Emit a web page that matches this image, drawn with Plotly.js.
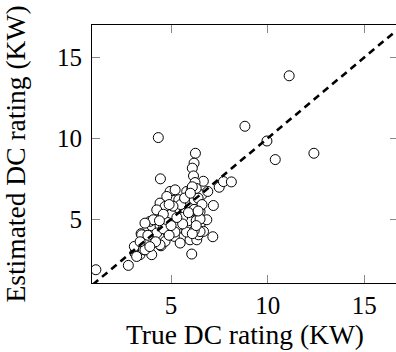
<!DOCTYPE html>
<html>
<head>
<meta charset="utf-8">
<script src="https://cdn.plot.ly/plotly-3.0.1.min.js"></script>
<style>
html,body{margin:0;padding:0;overflow:hidden;background:#fff;width:396px;height:352px;}
#chart{width:398px;height:352px;}
</style>
</head>
<body>
<div id="chart"></div>
<script>
// True DC rating (KW)
const trueRating = [
  1.11, 2.79, 3.13, 3.39, 3.10, 3.57, 3.45, 4.00, 3.74, 4.00,
  4.00, 3.91, 4.48, 4.48, 4.43, 4.52, 4.43, 4.95, 5.12, 5.03,
  4.95, 5.17, 5.47, 5.55, 5.64, 5.47, 5.73, 5.81, 6.04, 6.07,
  6.33, 6.24, 6.07, 5.98, 6.07, 6.33, 6.50, 6.59, 6.67, 6.85,
  6.90, 7.16, 7.19, 6.26, 6.19, 6.10, 6.16, 6.24, 7.49, 7.71,
  8.12, 4.69, 4.26, 4.08, 3.65, 4.26, 4.69, 5.21, 5.73, 5.90,
  6.50, 6.42, 6.68, 4.78, 5.21, 3.22, 3.65, 3.48, 4.43, 4.86,
  5.81, 6.33, 5.98, 5.38, 6.50, 6.24, 6.00, 6.20, 5.90, 6.10,
  6.30, 5.60, 5.30, 5.00, 4.80, 5.40, 6.40, 6.30, 6.10, 5.20,
  4.60, 4.20, 3.90, 4.90, 6.20, 5.80, 6.50, 6.60,
  5.50, 5.70, 6.00, 6.20, 5.90, 6.40, 5.10, 4.90, 5.60, 5.30,
  6.10, 6.30, 5.00, 4.60, 4.40, 3.80, 3.40,
  4.34, 4.45, 8.82, 9.96, 10.39, 12.39, 11.11
];
// Estimated DC rating (KW)
const estimatedRating = [
  1.87, 2.14, 2.90, 2.80, 3.31, 3.11, 4.10, 2.80, 3.72, 4.10,
  4.59, 4.86, 3.35, 3.93, 4.59, 5.16, 5.99, 6.71, 6.15, 4.96,
  4.24, 3.93, 3.52, 4.44, 4.65, 5.68, 6.09, 6.71, 6.50, 6.85,
  5.78, 5.27, 4.59, 3.72, 2.84, 3.72, 4.55, 6.50, 7.34, 4.96,
  6.71, 3.91, 5.84, 9.07, 8.46, 8.15, 7.67, 7.26, 6.97, 7.32,
  7.30, 5.78, 5.57, 4.96, 4.75, 4.14, 3.62, 5.57, 5.37, 5.16,
  5.47, 4.03, 4.24, 6.40, 6.81, 2.69, 3.10, 4.03, 3.41, 4.14,
  6.09, 5.78, 4.54, 4.96, 4.23, 6.30, 5.90, 6.20, 4.90, 5.50,
  4.90, 5.10, 4.60, 5.30, 4.80, 6.20, 6.30, 6.90, 7.00, 4.20,
  4.40, 3.60, 3.30, 4.00, 4.30, 4.20, 5.00, 5.90,
  5.90, 6.30, 6.60, 5.60, 5.40, 5.50, 5.80, 5.90, 4.70, 5.10,
  4.10, 4.60, 4.60, 5.30, 4.90, 4.00, 3.60,
  10.04, 7.49, 10.74, 9.83, 8.68, 9.07, 13.86
];
// reference line y = x
const identityLine = [0, 18];
const xTicks = [5, 10, 15];
const yTicks = [5, 10, 15];

const font = 'Liberation Serif, Times New Roman, serif';

const traces = [
  {
    x: trueRating, y: estimatedRating,
    type: 'scatter', mode: 'markers',
    marker: {size: 10, color: '#ffffff', line: {color: '#000000', width: 1}},
    hoverinfo: 'skip', showlegend: false
  },
  {
    x: identityLine, y: identityLine,
    type: 'scatter', mode: 'lines',
    line: {color: '#000000', width: 2.6, dash: '7px,5px'},
    hoverinfo: 'skip', showlegend: false
  }
];

const axisCommon = {
  showgrid: false, zeroline: false,
  showline: true, linecolor: '#000000', linewidth: 1, mirror: 'ticks',
  ticks: 'inside', ticklen: 8, tickwidth: 1, tickcolor: '#888888',
  tickfont: {family: font, size: 25, color: '#000000'},
  tickmode: 'array'
};

const layout = {
  width: 398, height: 352,
  margin: {l: 92, r: 0, t: 25, b: 69},
  paper_bgcolor: '#ffffff', plot_bgcolor: '#ffffff',
  showlegend: false,
  xaxis: Object.assign({}, axisCommon, {
    range: [0.91, 16.74], tickvals: xTicks, ticktext: xTicks.map(String),
    ticklabelstandoff: 0,
    title: {text: 'True DC rating (KW)', font: {family: font, size: 27.5, color: '#000000'}, standoff: 0}
  }),
  yaxis: Object.assign({}, axisCommon, {
    range: [1.05, 17.0], tickvals: yTicks, ticktext: yTicks.map(String),
    ticklabelstandoff: 4,
    title: {text: 'Estimated DC rating (KW)', font: {family: font, size: 27.5, color: '#000000'}, standoff: 23}
  })
};

Plotly.newPlot('chart', traces, layout, {staticPlot: true, displayModeBar: false});
</script>
</body>
</html>
